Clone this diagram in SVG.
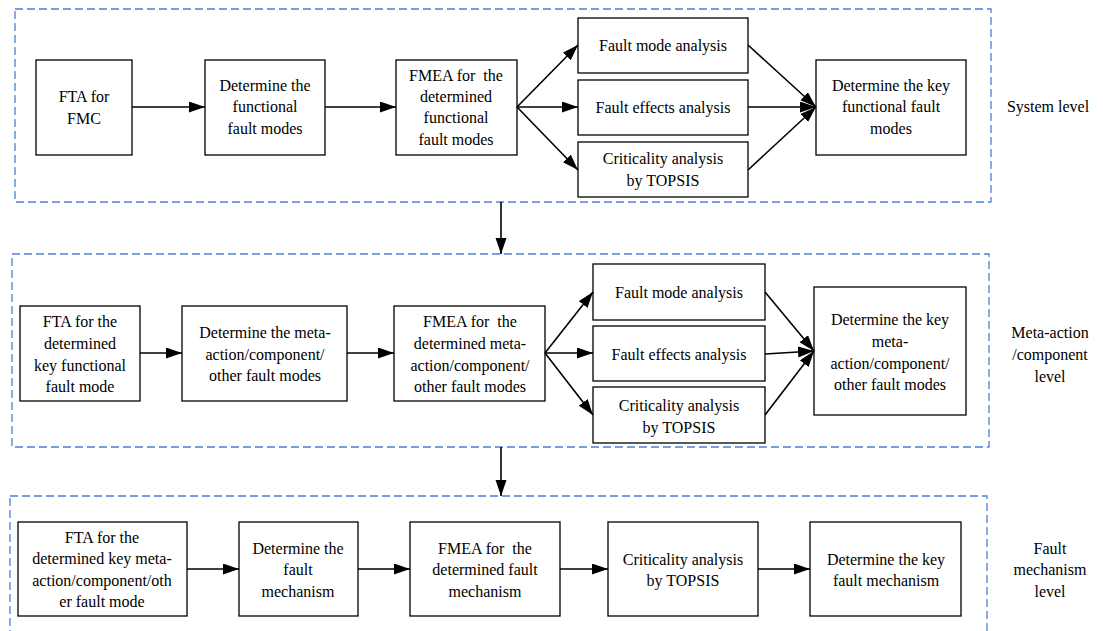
<svg xmlns="http://www.w3.org/2000/svg" width="1103" height="631" viewBox="0 0 1103 631">
<style>
.frame{fill:none;stroke:#4F7FD6;stroke-width:1.3;stroke-dasharray:8 4}
.box{fill:#fff;stroke:#000;stroke-width:1.3}
.t{font-size:16px;fill:#000;text-anchor:middle}
.c{fill:none;stroke:#000;stroke-width:1.6}
</style>
<defs>
<marker id="ah" markerUnits="userSpaceOnUse" markerWidth="17" markerHeight="12" refX="16" refY="5.5" orient="auto">
<path d="M0,0 L16,5.5 L0,11 z" fill="#000"/>
</marker>
</defs>

<g id="frames">
<rect class="frame" x="15" y="9" width="976" height="193"/>
<rect class="frame" x="12" y="254" width="977" height="193"/>
<rect class="frame" x="10" y="496" width="977" height="150"/>
</g>

<g font-family="Liberation Serif, DejaVu Serif, serif">
<g id="s_fta"><rect class="box" x="36" y="60" width="96" height="95"/>
<text class="t" x="84" y="102">FTA for</text><text class="t" x="84" y="124">FMC</text></g>
<g id="s_det"><rect class="box" x="205" y="60" width="120" height="95"/>
<text class="t" x="265" y="91">Determine the</text><text class="t" x="265" y="112">functional</text><text class="t" x="265" y="134">fault modes</text></g>
<g id="s_fmea"><rect class="box" x="396" y="60" width="121" height="95"/>
<text class="t" x="456" y="81" xml:space="preserve">FMEA for  the</text><text class="t" x="456" y="102">determined</text><text class="t" x="456" y="123">functional</text><text class="t" x="456" y="145">fault modes</text></g>
<g id="s_fma"><rect class="box" x="578" y="18" width="170" height="55"/>
<text class="t" x="663" y="51">Fault mode analysis</text></g>
<g id="s_fea"><rect class="box" x="578" y="80" width="170" height="55"/>
<text class="t" x="663" y="113">Fault effects analysis</text></g>
<g id="s_ca"><rect class="box" x="578" y="142" width="170" height="55"/>
<text class="t" x="663" y="164">Criticality analysis</text><text class="t" x="663" y="186">by TOPSIS</text></g>
<g id="s_key"><rect class="box" x="816" y="60" width="150" height="95"/>
<text class="t" x="891" y="91">Determine the key</text><text class="t" x="891" y="112">functional fault</text><text class="t" x="891" y="134">modes</text></g>
<g id="s_label"><text class="t" x="1048" y="112">System level</text></g>

<g id="m_fta"><rect class="box" x="20" y="306" width="120" height="95"/>
<text class="t" x="80" y="327">FTA for the</text><text class="t" x="80" y="349">determined</text><text class="t" x="80" y="371">key functional</text><text class="t" x="80" y="392">fault mode</text></g>
<g id="m_det"><rect class="box" x="182" y="306" width="165" height="95"/>
<text class="t" x="265" y="338">Determine the meta-</text><text class="t" x="265" y="360">action/component/</text><text class="t" x="265" y="381">other fault modes</text></g>
<g id="m_fmea"><rect class="box" x="394" y="306" width="151" height="95"/>
<text class="t" x="470" y="327" xml:space="preserve">FMEA for  the</text><text class="t" x="470" y="349">determined meta-</text><text class="t" x="470" y="371">action/component/</text><text class="t" x="470" y="392">other fault modes</text></g>
<g id="m_fma"><rect class="box" x="593" y="264" width="172" height="56"/>
<text class="t" x="679" y="298">Fault mode analysis</text></g>
<g id="m_fea"><rect class="box" x="593" y="326" width="172" height="55"/>
<text class="t" x="679" y="360">Fault effects analysis</text></g>
<g id="m_ca"><rect class="box" x="593" y="387" width="172" height="56"/>
<text class="t" x="679" y="411">Criticality analysis</text><text class="t" x="679" y="433">by TOPSIS</text></g>
<g id="m_key"><rect class="box" x="814" y="287" width="152" height="128"/>
<text class="t" x="890" y="325">Determine the key</text><text class="t" x="890" y="347">meta-</text><text class="t" x="890" y="369">action/component/</text><text class="t" x="890" y="390">other fault modes</text></g>
<g id="m_label"><text class="t" x="1050" y="338">Meta-action</text><text class="t" x="1050" y="360">/component</text><text class="t" x="1050" y="382">level</text></g>

<g id="f_fta"><rect class="box" x="18" y="522" width="169" height="94"/>
<text class="t" x="102" y="543">FTA for the</text><text class="t" x="102" y="564">determined key meta-</text><text class="t" x="102" y="586">action/component/oth</text><text class="t" x="102" y="607">er fault mode</text></g>
<g id="f_det"><rect class="box" x="239" y="522" width="119" height="94"/>
<text class="t" x="298" y="554">Determine the</text><text class="t" x="298" y="575">fault</text><text class="t" x="298" y="597">mechanism</text></g>
<g id="f_fmea"><rect class="box" x="410" y="522" width="150" height="94"/>
<text class="t" x="485" y="554" xml:space="preserve">FMEA for  the</text><text class="t" x="485" y="575">determined fault</text><text class="t" x="485" y="597">mechanism</text></g>
<g id="f_ca"><rect class="box" x="608" y="522" width="150" height="94"/>
<text class="t" x="683" y="565">Criticality analysis</text><text class="t" x="683" y="586">by TOPSIS</text></g>
<g id="f_key"><rect class="box" x="810" y="522" width="151" height="94"/>
<text class="t" x="886" y="565">Determine the key</text><text class="t" x="886" y="586">fault mechanism</text></g>
<g id="f_label"><text class="t" x="1050" y="554">Fault</text><text class="t" x="1050" y="575">mechanism</text><text class="t" x="1050" y="597">level</text></g>
</g>

<g id="connectors">
<line class="c" x1="132" y1="107" x2="205" y2="107" marker-end="url(#ah)"/>
<line class="c" x1="325" y1="107" x2="396" y2="107" marker-end="url(#ah)"/>
<line class="c" x1="517" y1="107" x2="578" y2="45" marker-end="url(#ah)"/>
<line class="c" x1="517" y1="107" x2="578" y2="107" marker-end="url(#ah)"/>
<line class="c" x1="517" y1="107" x2="578" y2="170" marker-end="url(#ah)"/>
<line class="c" x1="748" y1="45" x2="816" y2="107" marker-end="url(#ah)"/>
<line class="c" x1="748" y1="107" x2="816" y2="107" marker-end="url(#ah)"/>
<line class="c" x1="748" y1="170" x2="816" y2="107" marker-end="url(#ah)"/>
<line class="c" x1="501" y1="202" x2="501" y2="254" marker-end="url(#ah)"/>

<line class="c" x1="140" y1="353" x2="182" y2="353" marker-end="url(#ah)"/>
<line class="c" x1="347" y1="353" x2="394" y2="353" marker-end="url(#ah)"/>
<line class="c" x1="545" y1="353" x2="593" y2="292" marker-end="url(#ah)"/>
<line class="c" x1="545" y1="353" x2="593" y2="353" marker-end="url(#ah)"/>
<line class="c" x1="545" y1="353" x2="593" y2="415" marker-end="url(#ah)"/>
<line class="c" x1="765" y1="292" x2="814" y2="351" marker-end="url(#ah)"/>
<line class="c" x1="765" y1="354" x2="814" y2="351" marker-end="url(#ah)"/>
<line class="c" x1="765" y1="415" x2="814" y2="351" marker-end="url(#ah)"/>
<line class="c" x1="501" y1="447" x2="501" y2="496" marker-end="url(#ah)"/>

<line class="c" x1="187" y1="569" x2="239" y2="569" marker-end="url(#ah)"/>
<line class="c" x1="358" y1="569" x2="410" y2="569" marker-end="url(#ah)"/>
<line class="c" x1="560" y1="569" x2="608" y2="569" marker-end="url(#ah)"/>
<line class="c" x1="758" y1="569" x2="810" y2="569" marker-end="url(#ah)"/>
</g>
</svg>
